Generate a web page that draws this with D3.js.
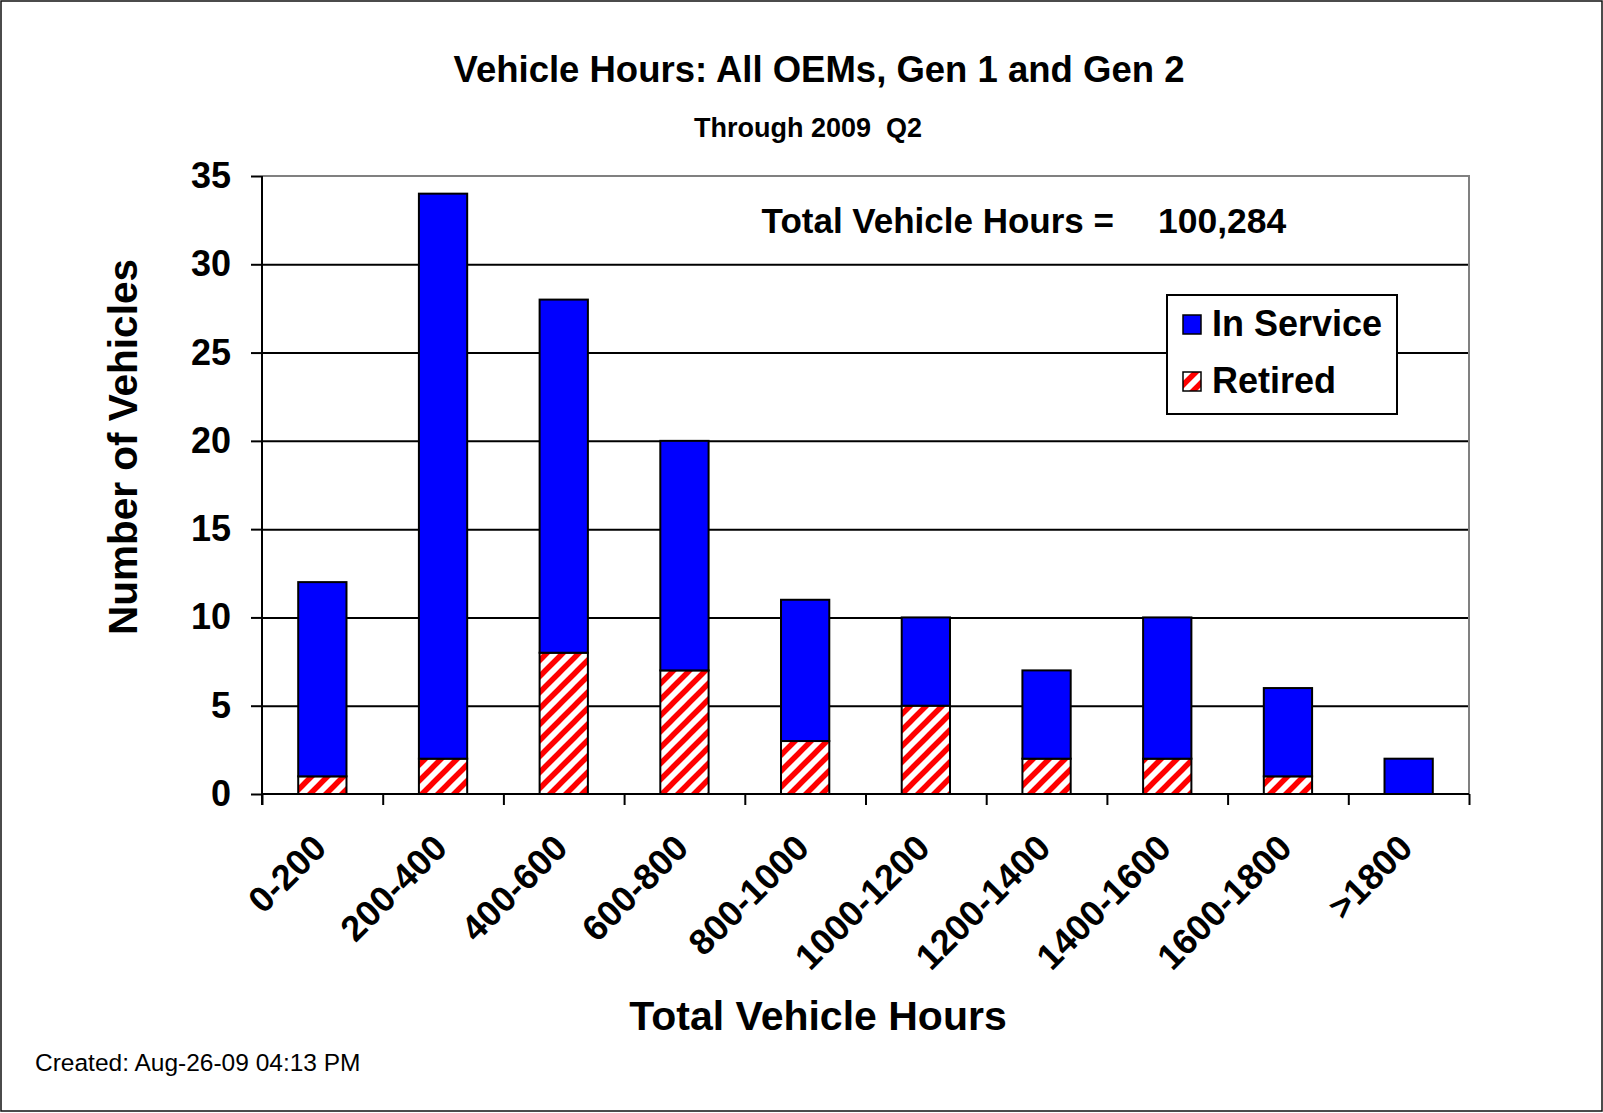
<!DOCTYPE html>
<html>
<head>
<meta charset="utf-8">
<script src="https://cdn.jsdelivr.net/npm/d3@7"></script>
<style>
  body { margin: 0; background: #fff; }
  svg { display: block; font-family: "Liberation Sans", Arial, sans-serif; }
</style>
</head>
<body>
<div id="chart"></div>
<script>
// data
var categories = ["0-200", "200-400", "400-600", "600-800", "800-1000", "1000-1200", "1200-1400", "1400-1600", "1600-1800", ">1800"];
var retired   = [1, 2, 8, 7, 3, 5, 2, 2, 1, 0];
var inService = [11, 32, 20, 13, 8, 5, 5, 8, 5, 2];
var yTicks = [0, 5, 10, 15, 20, 25, 30, 35];
var seriesNames = ["In Service", "Retired"];

var W = 1603, H = 1113;
var plotL = 262, plotR = 1469, plotT = 176, plotB = 794;

var svg = d3.select("#chart").append("svg")
    .attr("width", W)
    .attr("height", H);

// hatch for retired bars
var defs = svg.append("defs");
var p = 16;
var pat = defs.append("pattern")
    .attr("id", "hatch")
    .attr("patternUnits", "userSpaceOnUse")
    .attr("width", p)
    .attr("height", p);
pat.append("rect").attr("width", p).attr("height", p).attr("fill", "#fff");
pat.append("path")
    .attr("d", "M0," + p + " L" + p + ",0 M" + (-p / 2) + "," + (p / 2) + " L" + (p / 2) + "," + (-p / 2) +
               " M" + (p / 2) + "," + (p * 1.5) + " L" + (p * 1.5) + "," + (p / 2))
    .attr("stroke", "#ff0000")
    .attr("stroke-width", 5.5);

// outer frame
svg.append("rect")
    .attr("x", 1).attr("y", 1)
    .attr("width", W - 2).attr("height", H - 3)
    .attr("fill", "#fff")
    .attr("stroke", "#111")
    .attr("stroke-width", 1.5);

var x = d3.scaleBand()
    .domain(categories)
    .range([plotL, plotR])
    .paddingInner(0.6)
    .paddingOuter(0.3);

var xEdge = d3.scaleLinear()
    .domain([0, categories.length])
    .range([plotL, plotR]);

var y = d3.scaleLinear()
    .domain([0, 35])
    .range([plotB, plotT]);

// grid lines
svg.append("g")
    .attr("transform", "translate(" + plotL + ",0)")
    .call(d3.axisLeft(y).tickValues(yTicks.slice(1, -1)).tickSize(-(plotR - plotL)).tickFormat(""))
    .call(function(g) { g.select(".domain").remove(); })
    .selectAll("line")
    .attr("stroke", "#000")
    .attr("stroke-width", 2);

// grey plot border top / right
svg.append("path")
    .attr("d", "M" + plotL + "," + plotT + " L" + plotR + "," + plotT + " L" + plotR + "," + plotB)
    .attr("fill", "none")
    .attr("stroke", "#808080")
    .attr("stroke-width", 2);

// stacked bars
var stackData = categories.map(function(c, i) {
  return { cat: c, retired: retired[i], inService: inService[i] };
});
var stacked = d3.stack().keys(["retired", "inService"])(stackData);
var fills = { retired: "url(#hatch)", inService: "#0000ff" };

svg.append("g").selectAll("g")
    .data(stacked)
    .enter().append("g")
    .attr("fill", function(d) { return fills[d.key]; })
    .selectAll("rect")
    .data(function(d) { return d; })
    .enter().append("rect")
    .attr("x", function(d) { return x(d.data.cat); })
    .attr("width", x.bandwidth())
    .attr("y", function(d) { return y(d[1]); })
    .attr("height", function(d) { return y(d[0]) - y(d[1]); })
    .attr("stroke", "#000")
    .attr("stroke-width", 2);

// y axis
var yAxis = svg.append("g")
    .attr("transform", "translate(" + plotL + ",0)")
    .call(d3.axisLeft(y).tickValues(yTicks).tickSize(11).tickPadding(20));
yAxis.select(".domain").attr("stroke", "#000").attr("stroke-width", 2)
    .attr("d", "M0," + plotT + "V" + (plotB + 11));
yAxis.selectAll("line").attr("stroke", "#000").attr("stroke-width", 2);
yAxis.selectAll("text")
    .attr("font-size", 36)
    .attr("font-weight", "bold")
    .attr("font-family", "Liberation Sans, Arial, sans-serif")
    .attr("fill", "#000");

// x axis (ticks between categories)
var xAxis = svg.append("g")
    .attr("transform", "translate(0," + plotB + ")")
    .call(d3.axisBottom(xEdge).tickValues(d3.range(0, categories.length + 1)).tickSize(11).tickFormat(""));
xAxis.select(".domain").attr("stroke", "#000").attr("stroke-width", 2)
    .attr("d", "M" + plotL + ",0H" + plotR);
xAxis.selectAll("line").attr("stroke", "#000").attr("stroke-width", 2);

// category labels
svg.append("g").selectAll("text")
    .data(categories)
    .enter().append("text")
    .attr("transform", function(d) {
      return "translate(" + (x(d) + x.bandwidth() / 2 + 6) + "," + 850 + ") rotate(-45)";
    })
    .attr("text-anchor", "end")
    .attr("font-size", 36)
    .attr("font-weight", "bold")
    .text(function(d) { return d; });

// titles
svg.append("text")
    .attr("x", 819).attr("y", 82)
    .attr("text-anchor", "middle")
    .attr("font-size", 36.5)
    .attr("font-weight", "bold")
    .text("Vehicle Hours: All OEMs, Gen 1 and Gen 2");

svg.append("text")
    .attr("x", 808).attr("y", 137)
    .attr("text-anchor", "middle")
    .attr("font-size", 27)
    .attr("font-weight", "bold")
    .attr("xml:space", "preserve")
    .text("Through 2009  Q2");

svg.append("text")
    .attr("x", 1114).attr("y", 233)
    .attr("text-anchor", "end")
    .attr("font-size", 35)
    .attr("font-weight", "bold")
    .text("Total Vehicle Hours =");

svg.append("text")
    .attr("x", 1158).attr("y", 233)
    .attr("font-size", 35.5)
    .attr("font-weight", "bold")
    .text("100,284");

svg.append("text")
    .attr("transform", "translate(137,447) rotate(-90)")
    .attr("text-anchor", "middle")
    .attr("font-size", 40.5)
    .attr("font-weight", "bold")
    .text("Number of Vehicles");

svg.append("text")
    .attr("x", 818).attr("y", 1030)
    .attr("text-anchor", "middle")
    .attr("font-size", 41)
    .attr("font-weight", "bold")
    .text("Total Vehicle Hours");

svg.append("text")
    .attr("x", 35).attr("y", 1071)
    .attr("font-size", 24.5)
    .text("Created: Aug-26-09 04:13 PM");

// legend
var lg = svg.append("g");
lg.append("rect")
    .attr("x", 1167).attr("y", 295)
    .attr("width", 230).attr("height", 119)
    .attr("fill", "#fff")
    .attr("stroke", "#000")
    .attr("stroke-width", 2);

var legendFills = ["#0000ff", "url(#hatch)"];
var legendY = [336, 393];
var items = lg.selectAll("g.item")
    .data(seriesNames)
    .enter().append("g")
    .attr("class", "item");
items.append("rect")
    .attr("x", 1183)
    .attr("y", function(d, i) { return legendY[i] - 21; })
    .attr("width", 18).attr("height", 19)
    .attr("fill", function(d, i) { return legendFills[i]; })
    .attr("stroke", "#000")
    .attr("stroke-width", 1.5);
items.append("text")
    .attr("x", 1212)
    .attr("y", function(d, i) { return legendY[i]; })
    .attr("font-size", 36)
    .attr("font-weight", "bold")
    .text(function(d) { return d; });
</script>
</body>
</html>
